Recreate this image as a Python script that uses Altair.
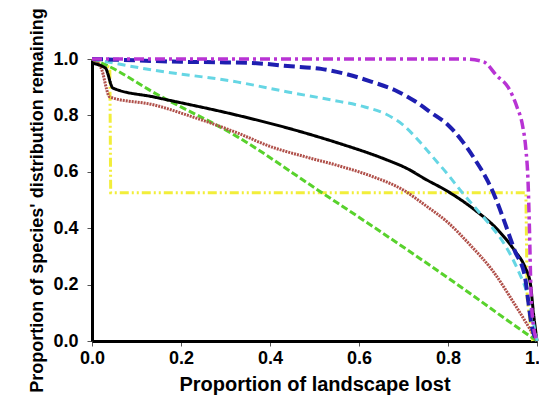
import altair as alt
import pandas as pd

# ---- data ----
magenta_x = [0.0, 0.84, 0.88, 0.91, 0.935, 0.955, 0.968, 0.975, 0.98, 0.983, 0.986, 0.99, 1.0]
magenta_y = [1.0, 1.0, 0.99, 0.94, 0.90, 0.83, 0.76, 0.68, 0.56, 0.40, 0.20, 0.08, 0.0]

blue_x = [0.0, 0.1, 0.2, 0.3, 0.37, 0.44, 0.515, 0.575, 0.627, 0.68, 0.726, 0.762, 0.8, 0.83, 0.86, 0.89, 0.906, 0.928, 0.95, 0.973, 0.98, 0.987, 1.0]
blue_y = [1.0, 0.995, 0.99, 0.988, 0.985, 0.975, 0.965, 0.945, 0.92, 0.89, 0.85, 0.81, 0.766, 0.713, 0.645, 0.565, 0.51, 0.418, 0.32, 0.227, 0.145, 0.064, 0.0]

cyan_x = [0.0, 0.14, 0.328, 0.44, 0.537, 0.613, 0.66, 0.70, 0.74, 0.77, 0.80, 0.83, 0.86, 0.89, 0.928, 0.957, 0.98, 0.995, 1.0]
cyan_y = [1.0, 0.96, 0.918, 0.883, 0.855, 0.83, 0.805, 0.765, 0.70, 0.645, 0.59, 0.53, 0.475, 0.42, 0.34, 0.252, 0.156, 0.04, 0.0]

black_x = [0.0, 0.03, 0.047, 0.14, 0.328, 0.44, 0.553, 0.658, 0.71, 0.748, 0.80, 0.86, 0.912, 0.95, 0.973, 0.985, 0.992, 1.0]
black_y = [0.985, 0.968, 0.897, 0.865, 0.80, 0.755, 0.702, 0.645, 0.61, 0.575, 0.53, 0.465, 0.394, 0.32, 0.262, 0.205, 0.10, 0.0]

red_x = [0.0, 0.02, 0.04, 0.14, 0.216, 0.328, 0.40, 0.48, 0.553, 0.627, 0.70, 0.75, 0.80, 0.85, 0.90, 0.95, 0.985, 1.0]
red_y = [1.0, 0.97, 0.865, 0.837, 0.80, 0.737, 0.69, 0.653, 0.622, 0.585, 0.535, 0.48, 0.42, 0.34, 0.25, 0.13, 0.04, 0.0]

green_x = [0.0, 0.03, 0.14, 0.328, 0.508, 0.665, 0.816, 0.987, 1.0]
green_y = [1.0, 0.98, 0.88, 0.723, 0.535, 0.37, 0.206, 0.014, 0.0]

yellow_x = [0.0, 0.04, 0.042, 0.975, 0.978, 0.99]
yellow_y = [1.0, 0.97, 0.526, 0.526, 0.15, 0.0]

series = [
    ("yellow", yellow_x, yellow_y, "#F2EE3A", [9, 3, 2, 3, 2, 3], 3, "linear"),
    ("green", green_x, green_y, "#58D22C", [7, 3], 3, "monotone"),
    ("red", red_x, red_y, "#B0504A", [2, 1], 3, "monotone"),
    ("black", black_x, black_y, "#000000", [1, 0], 3, "monotone"),
    ("cyan", cyan_x, cyan_y, "#66D6E4", [8, 5], 3, "monotone"),
    ("blue", blue_x, blue_y, "#1E1EB0", [11, 5], 4, "monotone"),
    ("magenta", magenta_x, magenta_y, "#B833D4", [10, 4, 3, 4], 3.5, "monotone"),
]

x_enc = alt.X(
    "x:Q",
    scale=alt.Scale(domain=[0, 1], nice=False, zero=False),
    axis=alt.Axis(
        title="Proportion of landscape lost",
        values=[0, 0.2, 0.4, 0.6, 0.8, 1.0],
        format=".1f",
        labelPadding=3,
        titlePadding=7,
    ),
)
y_enc = alt.Y(
    "y:Q",
    scale=alt.Scale(domain=[0, 1], nice=False, zero=False),
    axis=alt.Axis(
        title="Proportion of species' distribution remaining",
        values=[0, 0.2, 0.4, 0.6, 0.8, 1.0],
        format=".1f",
        labelPadding=9,
        titlePadding=6,
    ),
)

layers = []
for name, xs, ys, color, dash, w, interp in series:
    df = pd.DataFrame({"x": xs, "y": ys, "i": list(range(len(xs)))})
    layers.append(
        alt.Chart(df)
        .mark_line(color=color, strokeDash=dash, strokeWidth=w, clip=False, interpolate=interp)
        .encode(x=x_enc, y=y_enc, order="i:Q")
    )

chart = (
    alt.layer(*layers)
    .properties(
        width=445,
        height=282,
        autosize=alt.AutoSizeParams(type="none"),
        padding={"left": 84, "top": 51, "right": 2, "bottom": 62},
    )
    .configure_view(stroke=None)
    .configure_axis(
        grid=False,
        domainColor="#000000",
        domainWidth=3,
        tickColor="#555555",
        tickSize=5,
        tickWidth=1,
        labelFont="Liberation Sans",
        labelFontSize=18,
        labelFontWeight="bold",
        labelColor="#000000",
        titleFont="Liberation Sans",
        titleFontWeight="bold",
        titleColor="#000000",
        labelOverlap=False,
        labelFlush=False,
    )
    .configure_axisX(titleFontSize=20)
    .configure_axisY(titleFontSize=18)
)

chart.save("out.html", embed_options={"renderer": "svg", "actions": False})
